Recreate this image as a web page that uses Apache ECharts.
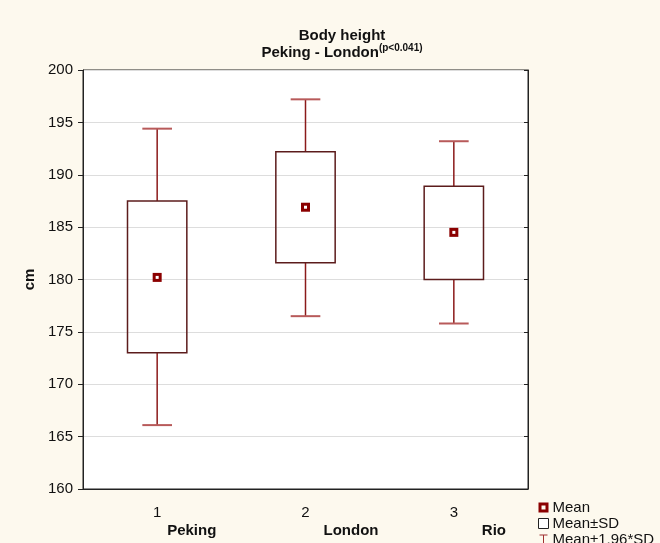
<!DOCTYPE html>
<html>
<head>
<meta charset="utf-8">
<script src="https://cdn.jsdelivr.net/npm/echarts@6/dist/echarts.min.js"></script>
<style>
  html, body { margin: 0; padding: 0; background: #fdf9ee; }
  #chart { width: 660px; height: 543px; }
</style>
</head>
<body>
<div id="chart"></div>
<script>
// group ticks and names
const categories = ['1', '2', '3']
const groups = ['Peking', 'London', 'Rio']

// body height, cm
const means = [180.2, 186.9, 184.5]
const sdLow = [173.0, 181.6, 180.0]
const sdHigh = [187.5, 192.2, 188.9]
const ciLow = [166.1, 176.5, 175.8]
const ciHigh = [194.4, 197.2, 193.2]

const yTicks = [160, 165, 170, 175, 180, 185, 190, 195, 200]

const chart = echarts.init(document.getElementById('chart'))

function boxItem(params, api) {
  const x = api.value(0)
  const top = api.coord([x, api.value(2)])
  const bot = api.coord([x, api.value(1)])
  const hw = api.size([1, 0])[0] * 0.2
  return {
    type: 'rect',
    shape: { x: top[0] - hw, y: top[1], width: hw * 2, height: bot[1] - top[1] },
    style: { fill: 'rgba(255,255,255,0)', stroke: '#5c1c1c', lineWidth: 1.5 },
  }
}

function whiskerItem(params, api) {
  const x = api.value(0)
  const hi = api.coord([x, api.value(4)])
  const boxTop = api.coord([x, api.value(3)])
  const boxBot = api.coord([x, api.value(2)])
  const lo = api.coord([x, api.value(1)])
  const cw = api.size([1, 0])[0] * 0.1
  const lineStyle = { stroke: '#8b1a1a', lineWidth: 1.5 }
  const capStyle = { stroke: '#b85a5a', lineWidth: 2 }
  return {
    type: 'group',
    children: [
      { type: 'line', shape: { x1: hi[0], y1: hi[1], x2: boxTop[0], y2: boxTop[1] }, style: lineStyle },
      { type: 'line', shape: { x1: lo[0], y1: lo[1], x2: boxBot[0], y2: boxBot[1] }, style: lineStyle },
      { type: 'line', shape: { x1: hi[0] - cw, y1: hi[1], x2: hi[0] + cw, y2: hi[1] }, style: capStyle },
      { type: 'line', shape: { x1: lo[0] - cw, y1: lo[1], x2: lo[0] + cw, y2: lo[1] }, style: capStyle },
    ],
  }
}

function meanItem(params, api) {
  const p = api.coord([api.value(0), api.value(1)])
  return {
    type: 'group',
    children: [
      { type: 'rect', shape: { x: p[0] - 4.5, y: p[1] - 4.5, width: 9, height: 9 }, style: { fill: '#8b0000' } },
      { type: 'rect', shape: { x: p[0] - 1.5, y: p[1] - 1.5, width: 3, height: 3 }, style: { fill: '#ffffff' } },
    ],
  }
}

chart.setOption({
  backgroundColor: '#fdf9ee',
  animation: false,
  textStyle: { fontFamily: 'Liberation Sans, Arial, sans-serif' },
  title: {
    text: 'Body height\nPeking - London{sup|(p<0.041)}',
    left: 337,
    top: 22,
    textAlign: 'center',
    textStyle: {
      fontSize: 15,
      fontWeight: 'bold',
      color: '#111',
      lineHeight: 17,
      rich: {
        sup: { fontSize: 10, fontWeight: 'bold', color: '#111', padding: [0, 0, 9, 0] },
      },
    },
  },
  legend: {
    orient: 'vertical',
    left: 533,
    top: 495,
    height: 80,
    itemWidth: 10,
    itemHeight: 10,
    itemGap: 1,
    textStyle: { fontSize: 15, color: '#111', padding: [0, 0, 0, -1] },
    data: [
      { name: 'Mean', icon: 'path://M0,0H10V10H0Z M3,3V7H7V3Z', itemStyle: { color: '#8b0000' } },
      { name: 'Mean±SD', icon: 'rect', itemStyle: { color: '#ffffff', borderColor: '#222', borderWidth: 1 } },
      { name: 'Mean±1,96*SD', icon: 'path://M0,0H8V1H4.5V9H8V10H0V9H3.5V1H0Z', itemStyle: { color: '#a03030' } },
    ],
  },
  grid: {
    left: 83, right: 132, top: 70, bottom: 54,
    show: true, backgroundColor: '#ffffff', borderColor: '#222', borderWidth: 1,
  },
  xAxis: [
    {
      type: 'category',
      data: categories,
      boundaryGap: true,
      axisLine: { lineStyle: { color: '#222' } },
      axisTick: { inside: true, alignWithLabel: true, length: 5, lineStyle: { color: '#222' } },
      axisLabel: { fontSize: 15, color: '#111', margin: 16 },
    },
    {
      type: 'category',
      data: groups,
      position: 'bottom',
      offset: 22,
      boundaryGap: true,
      axisLine: { show: false },
      axisTick: { show: false },
      axisLabel: {
        fontSize: 15,
        margin: 12,
        align: 'left',
        formatter: (v, i) => '{g' + i + '|' + v + '}',
        rich: {
          g0: { fontSize: 15, fontWeight: 'bold', color: '#111', padding: [0, 0, 0, 10] },
          g1: { fontSize: 15, fontWeight: 'bold', color: '#111', padding: [0, 0, 0, 18] },
          g2: { fontSize: 15, fontWeight: 'bold', color: '#111', padding: [0, 0, 0, 28] },
        },
      },
    },
  ],
  yAxis: [
    {
      type: 'value',
      min: yTicks[0],
      max: yTicks[yTicks.length - 1],
      interval: 5,
      name: 'cm',
      nameLocation: 'middle',
      nameGap: 46,
      nameTextStyle: { fontSize: 15, fontWeight: 'bold', color: '#111' },
      axisLine: { show: true, lineStyle: { color: '#222' } },
      axisTick: { show: true, length: 5, lineStyle: { color: '#222' } },
      axisLabel: { fontSize: 15, color: '#111', margin: 10 },
      splitLine: { lineStyle: { color: '#dddddd' } },
    },
    {
      type: 'value',
      position: 'right',
      min: yTicks[0],
      max: yTicks[yTicks.length - 1],
      interval: 5,
      axisLine: { show: true, lineStyle: { color: '#222' } },
      axisTick: { show: true, inside: true, length: 4, lineStyle: { color: '#222' } },
      axisLabel: { show: false },
      splitLine: { show: false },
    },
  ],
  series: [
    {
      name: 'Mean±1,96*SD',
      type: 'custom',
      renderItem: whiskerItem,
      encode: { x: 0, y: [1, 4] },
      data: categories.map((c, i) => [i, ciLow[i], sdLow[i], sdHigh[i], ciHigh[i]]),
      z: 2,
    },
    {
      name: 'Mean±SD',
      type: 'custom',
      renderItem: boxItem,
      encode: { x: 0, y: [1, 2] },
      data: categories.map((c, i) => [i, sdLow[i], sdHigh[i]]),
      z: 3,
    },
    {
      name: 'Mean',
      type: 'custom',
      renderItem: meanItem,
      encode: { x: 0, y: 1 },
      data: categories.map((c, i) => [i, means[i]]),
      z: 4,
    },
  ],
})
</script>
</body>
</html>
